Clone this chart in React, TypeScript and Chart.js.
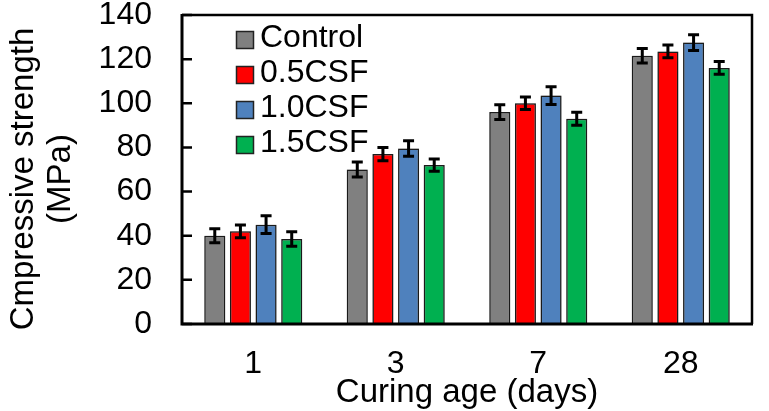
import React, { useEffect, useRef } from 'react';
import { Chart, registerables } from 'chart.js';

Chart.register(...registerables);

// ---- data ----
const categories = ['1', '3', '7', '28'];
const seriesNames = ['Control', '0.5CSF', '1.0CSF', '1.5CSF'];
const controlValues = [40, 70, 96, 121.5];
const csf05Values = [42, 77, 100, 123.5];
const csf10Values = [45, 79.5, 103.5, 127.5];
const csf15Values = [38.5, 72, 93, 116];
const controlErrors = [3.2, 3.4, 3.3, 3.3];
const csf05Errors = [2.9, 3.0, 2.8, 2.9];
const csf10Errors = [4.0, 3.5, 4.0, 3.6];
const csf15Errors = [3.3, 2.8, 2.9, 2.9];
const yTickValues = [0, 20, 40, 60, 80, 100, 120, 140];
const seriesColors = ['#808080', '#FF0000', '#4F81BD', '#00B050'];
const xTitle = 'Curing age (days)';
const yTitleLines = ['Cmpressive strength', '(MPa)'];

const FONT = '"Liberation Sans", Arial, Helvetica, sans-serif';
const FS = 32;
const TFS = 33;

const haloPlugin = {
  id: 'halo',
  beforeDatasetsDraw(chart: any) {
    const ctx = chart.ctx;
    ctx.save();
    ctx.shadowColor = 'rgba(0,0,0,0.35)';
    ctx.shadowBlur = 2.5;
  },
  afterDatasetsDraw(chart: any) {
    chart.ctx.restore();
  },
};

const errorBarPlugin = {
  id: 'errorBars',
  afterDatasetsDraw(chart: any) {
    const ctx = chart.ctx;
    const y = chart.scales.y;
    chart.data.datasets.forEach((ds: any, i: number) => {
      const meta = chart.getDatasetMeta(i);
      meta.data.forEach((bar: any, j: number) => {
        const v = ds.data[j];
        const e = ds.errors[j];
        const top = y.getPixelForValue(v + e);
        const bot = y.getPixelForValue(v - e);
        ctx.save();
        ctx.strokeStyle = '#000';
        ctx.lineWidth = 3;
        ctx.beginPath();
        ctx.moveTo(bar.x, top);
        ctx.lineTo(bar.x, bot);
        ctx.moveTo(bar.x - 5.5, top);
        ctx.lineTo(bar.x + 5.5, top);
        ctx.moveTo(bar.x - 5.5, bot);
        ctx.lineTo(bar.x + 5.5, bot);
        ctx.stroke();
        ctx.restore();
      });
    });
  },
};

const framePlugin = {
  id: 'frame',
  afterDraw(chart: any) {
    const ctx = chart.ctx;
    const { left, right, top, bottom } = chart.chartArea;
    const y = chart.scales.y;
    ctx.save();
    ctx.strokeStyle = '#000';
    // top & right border
    ctx.lineWidth = 2.5;
    ctx.beginPath();
    ctx.moveTo(left, top);
    ctx.lineTo(right, top);
    ctx.lineTo(right, bottom);
    ctx.stroke();
    // left & bottom axes
    ctx.lineWidth = 3;
    ctx.beginPath();
    ctx.moveTo(left, top - 1);
    ctx.lineTo(left, bottom);
    ctx.lineTo(right + 1, bottom);
    ctx.stroke();
    // inward y ticks
    ctx.lineWidth = 2.5;
    ctx.beginPath();
    yTickValues.forEach((t) => {
      const py = y.getPixelForValue(t);
      ctx.moveTo(left, py);
      ctx.lineTo(left + 10, py);
    });
    ctx.stroke();

    // y title
    ctx.fillStyle = '#000';
    ctx.font = `${TFS}px ${FONT}`;
    ctx.textAlign = 'center';
    ctx.textBaseline = 'alphabetic';
    const cy = 179;
    const baselines = [33, 70];
    yTitleLines.forEach((line, i) => {
      ctx.save();
      ctx.translate(baselines[i], cy);
      ctx.rotate(-Math.PI / 2);
      ctx.fillText(line, 0, 0);
      ctx.restore();
    });

    // legend
    ctx.font = `${FS}px ${FONT}`;
    const rowText = [38, 73, 108, 143];
    chart.data.datasets.forEach((ds: any, i: number) => {
      const by = rowText[i] + 2;
      ctx.fillStyle = seriesColors[i];
      ctx.fillRect(236.5, by - 8.5, 17, 17);
      ctx.lineWidth = 1.5;
      ctx.strokeStyle = '#222';
      ctx.strokeRect(236.5, by - 8.5, 17, 17);
      ctx.fillStyle = '#000';
      ctx.textAlign = 'left';
      ctx.textBaseline = 'middle';
      ctx.fillText(ds.label, 260, rowText[i]);
    });
    ctx.restore();
  },
};

export default function App() {
  const ref = useRef<HTMLCanvasElement | null>(null);
  useEffect(() => {
    if (!ref.current) return;
    const valueArrays = [controlValues, csf05Values, csf10Values, csf15Values];
    const errorArrays = [controlErrors, csf05Errors, csf10Errors, csf15Errors];
    const chart = new Chart(ref.current, {
      type: 'bar',
      data: {
        labels: categories,
        datasets: seriesNames.map((name, i) => ({
          label: name,
          data: valueArrays[i],
          errors: errorArrays[i],
          backgroundColor: seriesColors[i],
          borderColor: '#1e1e1e',
          borderWidth: 1.5,
          barPercentage: 0.82,
          categoryPercentage: 0.72,
        })) as any,
      },
      options: {
        responsive: false,
        animation: false,
        devicePixelRatio: 1,
        layout: { padding: { top: 15, right: 17, bottom: 0, left: 0 } },
        plugins: {
          legend: { display: false },
          tooltip: { enabled: false },
        },
        scales: {
          x: {
            grid: { display: false, drawTicks: false },
            border: { display: false },
            ticks: {
              color: '#000',
              padding: 21,
              font: { family: FONT, size: FS, lineHeight: 1.2 },
            },
            title: {
              display: true,
              text: xTitle,
              color: '#000',
              padding: 0,
              font: { family: FONT, size: TFS, lineHeight: 1.1 },
            },
            afterFit: (s: any) => {
              s.height = 87;
              s.paddingLeft = 0;
              s.paddingRight = 0;
            },
          },
          y: {
            min: 0,
            max: 140,
            afterBuildTicks: (s: any) => {
              s.ticks = yTickValues.map((v) => ({ value: v }));
            },
            grid: { display: false, drawTicks: false },
            border: { display: false },
            ticks: {
              color: '#000',
              padding: 30,
              font: { family: FONT, size: FS, lineHeight: 0.9 },
            },
            afterFit: (s: any) => {
              s.width = 182;
              s.paddingTop = 0;
              s.paddingBottom = 0;
            },
          },
        },
      },
      plugins: [haloPlugin, errorBarPlugin, framePlugin],
    });
    return () => chart.destroy();
  }, []);
  return (
    <div style={{ position: 'absolute', left: 0, top: 0, width: 769, height: 411, background: '#fff' }}>
      <canvas ref={ref} width={769} height={411} style={{ display: 'block', width: 769, height: 411 }} />
    </div>
  );
}
